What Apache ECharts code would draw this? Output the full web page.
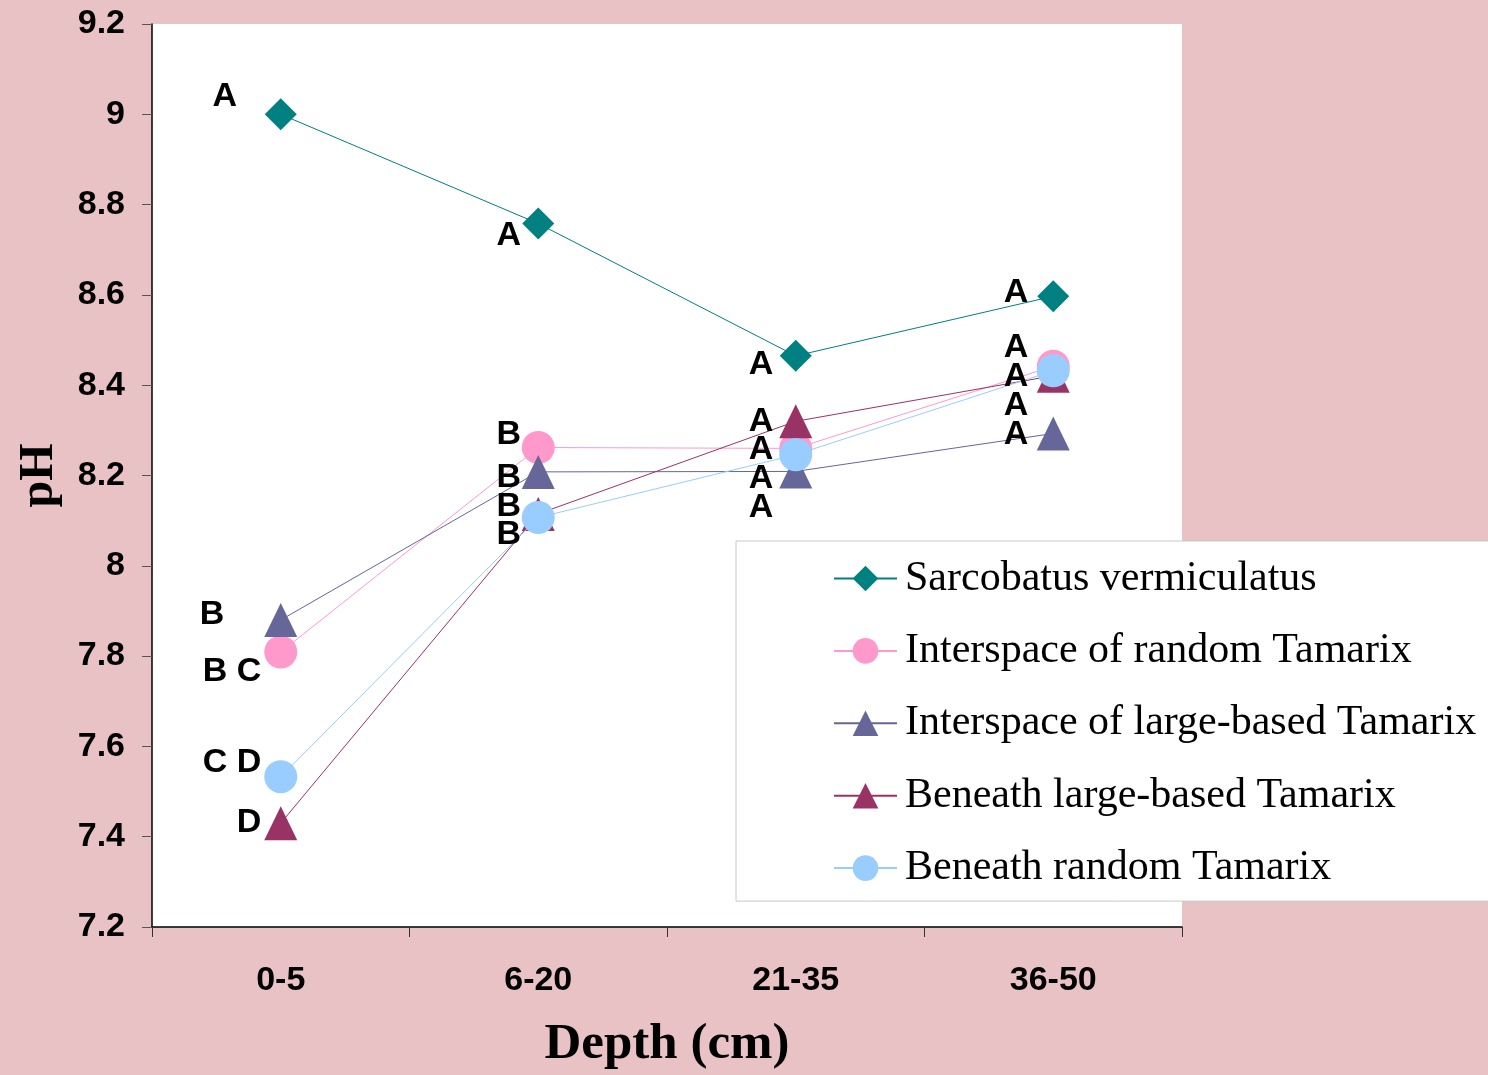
<!DOCTYPE html>
<html>
<head>
<meta charset="utf-8">
<script src="https://cdn.jsdelivr.net/npm/echarts@6/dist/echarts.min.js"></script>
<style>
html,body{margin:0;padding:0;background:#e8c2c4;}
#c{width:1488px;height:1075px;}
</style>
</head>
<body>
<div id="c"></div>
<script>
const categories = ['0-5', '6-20', '21-35', '36-50'];
const seriesNames = ['Sarcobatus vermiculatus', 'Interspace of random Tamarix', 'Interspace of large-based Tamarix', 'Beneath large-based Tamarix', 'Beneath random Tamarix'];
const sarcobatus = [9.00, 8.758, 8.465, 8.597];
const interspaceRandom = [7.809, 8.262, 8.26, 8.442];
const interspaceLarge = [7.88, 8.208, 8.209, 8.293];
const beneathLarge = [7.43, 8.115, 8.32, 8.421];
const beneathRandom = [7.533, 8.107, 8.246, 8.432];
// significance letters: [x in category units (0..4), pH, text]
const letters = [
  [0.283, 9.04, 'A'], [0.233, 7.891, 'B'], [0.311, 7.765, 'B C'], [0.311, 7.564, 'C D'], [0.377, 7.432, 'D'],
  [1.386, 8.732, 'A'], [1.386, 8.291, 'B'], [1.386, 8.196, 'B'], [1.386, 8.132, 'B'], [1.386, 8.070, 'B'],
  [2.365, 8.445, 'A'], [2.365, 8.319, 'A'], [2.365, 8.257, 'A'], [2.365, 8.193, 'A'], [2.365, 8.129, 'A'],
  [3.355, 8.606, 'A'], [3.355, 8.483, 'A'], [3.355, 8.419, 'A'], [3.355, 8.355, 'A'], [3.355, 8.290, 'A']
];
const yMin = 7.2, yMax = 9.2, yStep = 0.2;

const colors = ['#008080', '#ff99cc', '#666699', '#993366', '#99ccff'];
const symbols = ['diamond', 'circle', 'triangle', 'triangle', 'circle'];
const sizes = [[32, 32], 33, [33, 34], [33, 34], 33];
const values = [sarcobatus, interspaceRandom, interspaceLarge, beneathLarge, beneathRandom];

const chart = echarts.init(document.getElementById('c'));
const lineSeries = seriesNames.map((n, i) => ({
  name: n,
  type: 'line',
  xAxisIndex: 0,
  yAxisIndex: 0,
  data: values[i],
  symbol: symbols[i],
  symbolSize: sizes[i],
  itemStyle: { color: colors[i] },
  lineStyle: { color: colors[i], width: 1 },
  emphasis: { disabled: true },
  animation: false,
  z: 2 + i
}));

chart.setOption({
  backgroundColor: '#e8c2c4',
  animation: false,
  grid: {
    left: 152, right: 306, top: 24, bottom: 144.5,
    show: true, backgroundColor: '#ffffff', borderWidth: 0
  },
  legend: {
    data: seriesNames,
    orient: 'vertical',
    left: 736, top: 541,
    backgroundColor: '#ffffff',
    borderColor: '#c8c8c8', borderWidth: 1,
    padding: [16.5, 40, 12, 97],
    itemWidth: 63, itemHeight: 32,
    itemGap: 30.4,
    textStyle: { fontFamily: 'Liberation Serif', fontSize: 42, color: '#000', padding: [0, 0, 0, 3] },
    selectedMode: false
  },
  xAxis: [{
    type: 'category',
    data: categories,
    boundaryGap: true,
    axisLine: { lineStyle: { color: '#000', width: 1.5 } },
    axisTick: { show: true, length: 10, inside: false, lineStyle: { color: '#333' } },
    axisLabel: { fontFamily: 'Liberation Sans', fontWeight: 'bold', fontSize: 34, color: '#000', margin: 37 },
    name: 'Depth (cm)',
    nameLocation: 'middle',
    nameGap: 92,
    nameTextStyle: { fontFamily: 'Liberation Serif', fontWeight: 'bold', fontSize: 51, color: '#000' }
  }, {
    type: 'value', min: 0, max: 4, show: false
  }],
  yAxis: {
    type: 'value',
    min: yMin, max: yMax, interval: yStep,
    axisLine: { show: true, lineStyle: { color: '#000', width: 1.5 } },
    axisTick: { show: true, length: 10, lineStyle: { color: '#555' } },
    splitLine: { show: false },
    axisLabel: { fontFamily: 'Liberation Sans', fontWeight: 'bold', fontSize: 34, color: '#000', margin: 27,
      formatter: v => String(Math.round(v * 10) / 10) },
    name: 'pH',
    nameLocation: 'middle',
    nameRotate: 90,
    nameGap: 88,
    nameTextStyle: { fontFamily: 'Liberation Serif', fontWeight: 'bold', fontSize: 48, color: '#000' }
  },
  series: lineSeries.concat([{
    name: 'letters',
    type: 'scatter',
    xAxisIndex: 1,
    yAxisIndex: 0,
    data: letters,
    symbolSize: 0,
    silent: true,
    z: 20,
    itemStyle: { opacity: 1 },
    label: {
      show: true, position: 'inside',
      formatter: p => p.data[2],
      fontFamily: 'Liberation Sans', fontWeight: 'bold', fontSize: 34, color: '#000'
    }
  }])
});
</script>
</body>
</html>
